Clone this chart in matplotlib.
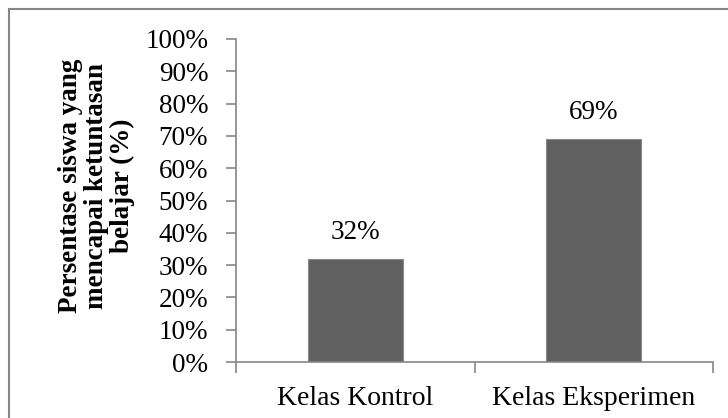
import matplotlib.pyplot as plt
from matplotlib.patches import Rectangle
import numpy as np

kelas = ['Kelas Kontrol', 'Kelas Eksperimen']
persen = [32, 69]
y_ticks = [0, 10, 20, 30, 40, 50, 60, 70, 80, 90, 100]

plt.rcParams['font.family'] = ['Liberation Serif', 'DejaVu Serif']
abu = '#868686'

fig = plt.figure(figsize=(7.28, 4.18), dpi=100)
# garis bingkai chart (terpotong di kanan dan bawah)
fig.patches.append(Rectangle((9 / 728, -0.05), 1.1, 1 - 9 / 418 + 0.05,
                             transform=fig.transFigure, fill=False,
                             edgecolor=abu, linewidth=1.5))

ax = fig.add_axes([236 / 728, 1 - 362 / 418, 477 / 728, 323 / 418])
x = np.arange(len(kelas))
ax.bar(x, persen, width=0.4, color='#606060', edgecolor='#8a8a8a', linewidth=0.8)

for xi, v in zip(x, persen):
    ax.annotate(f'{v}%', (xi, v), xytext=(0, 10), textcoords='offset points',
                ha='center', va='bottom', fontsize=19.5)

ax.set_xlim(-0.5, 1.5)
ax.set_ylim(0, 100)
ax.set_yticks(y_ticks)
ax.set_yticklabels([f'{t}%' for t in y_ticks], fontsize=19.5)
ax.set_xticks([-0.5, 0.5, 1.5])
ax.set_xticklabels([])
ax.set_xticks(x, minor=True)
ax.set_xticklabels(kelas, minor=True, fontsize=20)
ax.tick_params(axis='x', which='minor', length=0, pad=17)
ax.tick_params(axis='x', which='major', length=8, color=abu, width=1.2)
ax.tick_params(axis='y', length=7, color=abu, width=1.2, pad=13)

for s in ['top', 'right']:
    ax.spines[s].set_visible(False)
for s in ['left', 'bottom']:
    ax.spines[s].set_color(abu)
    ax.spines[s].set_linewidth(1.2)

ax.set_ylabel('Persentase siswa yang\nmencapai ketuntasan\nbelajar (%)',
              fontsize=19.5, fontweight='bold', linespacing=1.05)
ax.yaxis.set_label_coords(-0.212, 0.545)

fig.savefig('out.png', dpi=100)
